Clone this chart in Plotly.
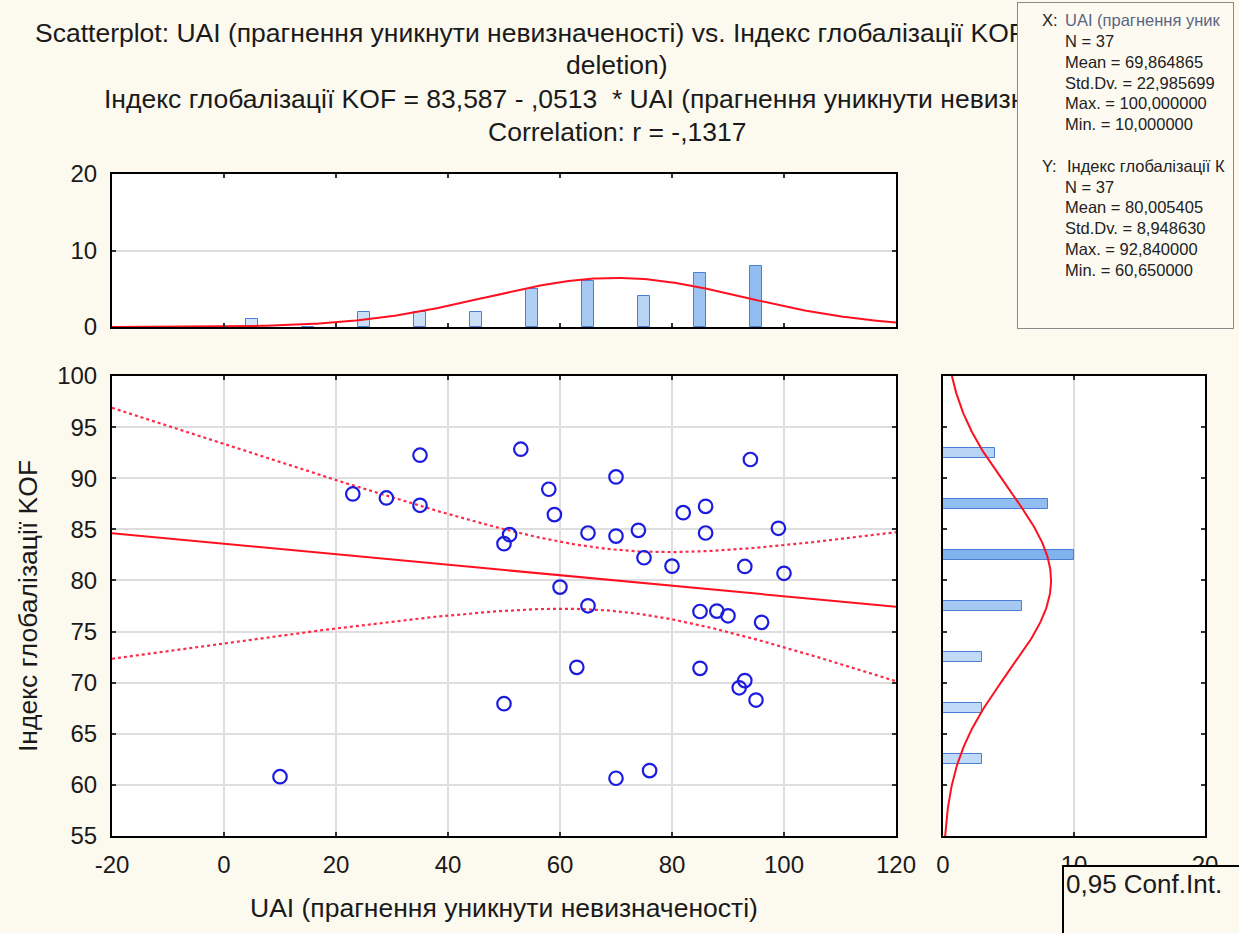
import numpy as np
import plotly.graph_objects as go

W, H = 1239, 933

# ---------------- data ----------------
uai = [23, 29, 35, 35, 51, 50, 53, 58, 59, 60, 65, 65, 70, 70, 74, 75, 80, 82, 86,
       86, 85, 88, 90, 93, 94, 99, 100, 96, 10, 50, 63, 70, 76, 85, 93, 92, 95]
kof = [88.46, 88.07, 92.25, 87.35, 84.48, 83.60, 92.84, 88.92, 86.44, 79.35, 84.64,
       77.52, 90.13, 84.34, 84.90, 82.22, 81.40, 86.63, 87.25, 84.64, 76.96, 77.00,
       76.54, 81.37, 91.83, 85.10, 80.70, 75.90, 60.80, 67.94, 71.50, 60.65, 61.40,
       71.40, 70.20, 69.50, 68.30]

uai_bin_centers = [5, 15, 25, 35, 45, 55, 65, 75, 85, 95]
uai_bin_counts = [1, 0, 2, 2, 2, 5, 6, 4, 7, 8]
kof_bin_centers = [62.5, 67.5, 72.5, 77.5, 82.5, 87.5, 92.5]
kof_bin_counts = [3, 3, 3, 6, 10, 8, 4]

n_obs = 37
x_mean, x_sd, x_max, x_min = 69.864865, 22.985699, 100.0, 10.0
y_mean, y_sd, y_max, y_min = 80.005405, 8.948630, 92.84, 60.65
r_corr = -0.1317
intercept, slope = 83.587, -0.0513
t_crit = 2.030108  # t(0.975, 35)

x_ticks = [-20, 0, 20, 40, 60, 80, 100, 120]
y_ticks = [55, 60, 65, 70, 75, 80, 85, 90, 95, 100]
hist_ticks = [0, 10, 20]

# ---------------- derived curves ----------------
xs = np.linspace(-20, 120, 281)
fit = intercept + slope * xs
s_e = np.sqrt((n_obs - 1) * y_sd ** 2 * (1 - r_corr ** 2) / (n_obs - 2))
sxx = (n_obs - 1) * x_sd ** 2
half = t_crit * s_e * np.sqrt(1.0 / n_obs + (xs - x_mean) ** 2 / sxx)
ci_lo, ci_hi = fit - half, fit + half

norm_x = n_obs * 10 * np.exp(-0.5 * ((xs - x_mean) / x_sd) ** 2) / (x_sd * np.sqrt(2 * np.pi))
ys = np.linspace(55, 100, 226)
norm_y = n_obs * 5 * np.exp(-0.5 * ((ys - y_mean) / y_sd) ** 2) / (y_sd * np.sqrt(2 * np.pi))


def bar_colors(counts, cmax=10):
    lo = np.array([222, 236, 251])
    hi = np.array([128, 178, 238])
    out = []
    for c in counts:
        f = min(c / cmax, 1.0)
        rgb = lo + (hi - lo) * f
        out.append("rgb(%d,%d,%d)" % tuple(rgb))
    return out


FONT = "Liberation Sans, Arial, sans-serif"
BG = "#fcf9ef"
RED = "#ff1020"
DOT_RED = "#ff2a4a"

fig = go.Figure()

# main scatter panel
fig.add_trace(go.Scatter(x=xs, y=ci_hi, mode="lines", line=dict(color=DOT_RED, width=2.2, dash="dot"),
                         xaxis="x", yaxis="y", showlegend=False, hoverinfo="skip"))
fig.add_trace(go.Scatter(x=xs, y=ci_lo, mode="lines", line=dict(color=DOT_RED, width=2.2, dash="dot"),
                         xaxis="x", yaxis="y", showlegend=False, hoverinfo="skip"))
fig.add_trace(go.Scatter(x=xs, y=fit, mode="lines", line=dict(color=RED, width=2),
                         xaxis="x", yaxis="y", showlegend=False, hoverinfo="skip"))
fig.add_trace(go.Scatter(x=uai, y=kof, mode="markers",
                         marker=dict(symbol="circle-open", size=13.5, color="#1c1ce0", line=dict(width=2.2)),
                         xaxis="x", yaxis="y", showlegend=False))

# top histogram
fig.add_trace(go.Bar(x=uai_bin_centers, y=uai_bin_counts, width=2,
                     marker=dict(color=bar_colors(uai_bin_counts), line=dict(color="#4a7fd6", width=1)),
                     xaxis="x2", yaxis="y2", showlegend=False))
fig.add_trace(go.Scatter(x=xs, y=norm_x, mode="lines", line=dict(color=RED, width=2),
                         xaxis="x2", yaxis="y2", showlegend=False, hoverinfo="skip"))

# right histogram
fig.add_trace(go.Bar(y=kof_bin_centers, x=kof_bin_counts, width=1, orientation="h",
                     marker=dict(color=bar_colors(kof_bin_counts), line=dict(color="#4a7fd6", width=1)),
                     xaxis="x3", yaxis="y3", showlegend=False))
fig.add_trace(go.Scatter(x=norm_y, y=ys, mode="lines", line=dict(color=RED, width=2),
                         xaxis="x3", yaxis="y3", showlegend=False, hoverinfo="skip"))

axis_common = dict(showline=True, linecolor="black", linewidth=2, mirror="ticks",
                   ticks="inside", ticklen=4, tickcolor="#333", tickwidth=1.5,
                   zeroline=False, gridcolor="#dedede", gridwidth=1.5, automargin=False,
                   tickfont=dict(family=FONT, size=24, color="#1a1a1a"))

main_x = [112 / W, 896 / W]
main_y = [1 - 836 / H, 1 - 376 / H]


def labels(vals):
    return [str(v) for v in vals]


fig.update_layout(
    width=W, height=H, autosize=False,
    margin=dict(l=0, r=0, t=0, b=0, pad=0, autoexpand=False),
    paper_bgcolor=BG, plot_bgcolor="white", showlegend=False,
    bargap=0,
    xaxis=dict(axis_common, domain=main_x, range=[-20, 120], tickvals=x_ticks, ticktext=labels(x_ticks),
               showgrid=True, anchor="y", ticklabelstandoff=6),
    yaxis=dict(axis_common, domain=main_y, range=[55, 100], tickvals=y_ticks, ticktext=labels(y_ticks),
               showgrid=True, anchor="x", ticklabelstandoff=8),
    xaxis2=dict(axis_common, domain=main_x, range=[-20, 120], tickvals=x_ticks, showgrid=False,
                showticklabels=False, anchor="y2"),
    yaxis2=dict(axis_common, domain=[1 - 327 / H, 1 - 174 / H], range=[0, 20], tickvals=hist_ticks,
                ticktext=labels(hist_ticks), showgrid=True, anchor="x2", ticklabelstandoff=8),
    xaxis3=dict(axis_common, domain=[943 / W, 1205 / W], range=[0, 20], tickvals=hist_ticks,
                ticktext=labels(hist_ticks), showgrid=True, anchor="y3", ticklabelstandoff=6),
    yaxis3=dict(axis_common, domain=main_y, range=[55, 100], tickvals=y_ticks, showgrid=False,
                showticklabels=False, anchor="x3"),
)


def px(x):
    return x / W


def py(y):
    return 1 - y / H


ann = []
TF = dict(family=FONT, size=26.5, color="#1a1a1a")
# title lines (their right ends run under the statistics box, as in the picture)
ann.append(dict(x=px(33), y=py(33), xanchor="left", yanchor="middle",
                text="Scatterplot: UAI (прагнення уникнути невизначеності) vs. Індекс глобалізації KOF",
                font=TF))
ann.append(dict(x=px(617), y=py(65), xanchor="center", yanchor="middle", text="deletion)", font=TF))
ann.append(dict(x=px(102), y=py(99), xanchor="left", yanchor="middle",
                text="Індекс глобалізації KOF = %s - %s \u00a0* UAI (прагнення уникнути невизн"
                     % (("%.3f" % intercept).replace(".", ","), ("%.4f" % abs(slope)).lstrip("0").replace(".", ",")),
                font=TF))
ann.append(dict(x=px(617), y=py(132), xanchor="center", yanchor="middle",
                text="Correlation: r = -%s" % ("%.4f" % abs(r_corr)).lstrip("0").replace(".", ","), font=TF))

# axis titles
ann.append(dict(x=px(504), y=py(908), xanchor="center", yanchor="middle",
                text="UAI (прагнення уникнути невизначеності)", font=TF))
ann.append(dict(x=px(28), y=py(606), xanchor="center", yanchor="middle", textangle=-90,
                text="Індекс глобалізації KOF", font=TF))

# stats box (covers the end of the title lines)
ann.append(dict(x=px(1017), y=py(2), xanchor="left", yanchor="top", text=" ",
                width=215, height=325, bgcolor="#fdfaf2", bordercolor="#8a8a8a", borderwidth=1, borderpad=0))


def fmt(v):
    return ("%.6f" % v).replace(".", ",")


SF = dict(family=FONT, size=16.5, color="#222")
stat_rows = [
    (1040, 20, "X:", SF),
    (1063, 20, "UAI (прагнення уник", dict(SF, color="#5a6680")),
    (1063, 41, "N = %d" % n_obs, SF),
    (1063, 62, "Mean = " + fmt(x_mean), SF),
    (1063, 83, "Std.Dv. = " + fmt(x_sd), SF),
    (1063, 103, "Max. = " + fmt(x_max), SF),
    (1063, 124, "Min. = " + fmt(x_min), SF),
    (1040, 166, "Y:", SF),
    (1065, 166, "Індекс глобалізації К", SF),
    (1063, 187, "N = %d" % n_obs, SF),
    (1063, 207, "Mean = " + fmt(y_mean), SF),
    (1063, 228, "Std.Dv. = " + fmt(y_sd), SF),
    (1063, 249, "Max. = " + fmt(y_max), SF),
    (1063, 270, "Min. = " + fmt(y_min), SF),
]
for xx, yy, t, f in stat_rows:
    ann.append(dict(x=px(xx), y=py(yy), xanchor="left", yanchor="middle", text=t, font=f))

# confidence-interval legend box
ann.append(dict(x=px(1062), y=py(865), xanchor="left", yanchor="top", text="0,95 Conf.Int.",
                width=172, height=90, align="left", valign="top",
                bgcolor=BG, bordercolor="black", borderwidth=2, borderpad=2,
                font=dict(family=FONT, size=26, color="#1a1a1a")))

for a in ann:
    a.setdefault("xref", "paper")
    a.setdefault("yref", "paper")
    a.setdefault("showarrow", False)

fig.update_layout(annotations=ann)

fig.write_html("out.html", config={"displayModeBar": False},
               post_script="document.body.style.margin='0';document.body.style.background='%s';" % BG)
